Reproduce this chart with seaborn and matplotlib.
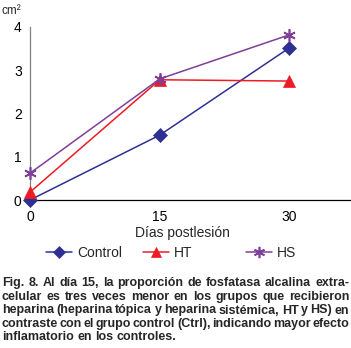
import matplotlib
matplotlib.use("Agg")
import matplotlib.pyplot as plt
from matplotlib import font_manager
import seaborn as sns
import pandas as pd

# datos
dias = [0, 15, 30]
control = [0.0, 1.5, 3.52]
ht = [0.18, 2.78, 2.75]
hs = [0.62, 2.8, 3.82]
grupos = ["Control", "HT", "HS"]
colores = {"Control": "#2e3192", "HT": "#ed1c24", "HS": "#7f3f98"}
marcas = {"Control": "D", "HT": "^", "HS": (6, 2, 0)}
tamanos = {"Control": 7, "HT": 8.5, "HS": 9}

leyenda_txt = "Días postlesión"
caption = [
    "Fig. 8. Al día 15, la proporción de fosfatasa alcalina extra-",
    "celular es tres veces menor en los grupos que recibieron",
    "heparina (heparina tópica y heparina sistémica, HT y HS) en",
    "contraste con el grupo control (Ctrl), indicando mayor efecto",
    "inflamatorio en los controles.",
]

sns.set_style("white")
nombres = {f.name for f in font_manager.fontManager.ttflist}
fuente = "Liberation Sans" if "Liberation Sans" in nombres else "DejaVu Sans"
fuente_n = "Liberation Sans Narrow" if "Liberation Sans Narrow" in nombres else fuente
plt.rcParams["font.family"] = [fuente, "DejaVu Sans"]

df = pd.DataFrame({
    "dia": dias * 3,
    "valor": control + ht + hs,
    "grupo": [g for g in grupos for _ in dias],
})

W, H = 351, 348
fig = plt.figure(figsize=(W / 100, H / 100), dpi=100)
ax = fig.add_axes([30 / W, 1 - 200 / H, 320 / W, 173 / H])

sns.lineplot(data=df, x="dia", y="valor", hue="grupo", palette=colores,
             ax=ax, legend=False, linewidth=1.1)
# marcadores por grupo
for g in grupos:
    sub = df[df.grupo == g]
    ax.plot(sub.dia, sub.valor, color=colores[g], marker=marcas[g],
            markersize=tamanos[g], linestyle="none", clip_on=False,
            markeredgewidth=1.2 if g == "HS" else 0.5, zorder=5)

ax.set_xlim(0, 37)
ax.set_ylim(0, 4)
ax.set_xticks(dias)
ax.set_yticks([0, 1, 2, 3, 4])
ax.tick_params(axis="both", labelsize=10, colors="#808080", labelcolor="black",
               length=4, width=0.8, direction="out", pad=2)
ax.tick_params(axis="x", pad=3)
for s in ["top", "right"]:
    ax.spines[s].set_visible(False)
ax.spines["left"].set_color("#808080")
ax.spines["bottom"].set_color("black")
ax.spines["left"].set_linewidth(0.9)
ax.spines["bottom"].set_linewidth(0.9)
ax.set_xlabel("")
ax.set_ylabel("")

fig.text(2 / W, 1 - 11 / H, "cm²", fontsize=8.5, va="center", ha="left")
fig.text(182 / W, 1 - 233 / H, leyenda_txt, fontsize=10, ha="center", va="center")

# leyenda: una entrada por columna, columnas de igual ancho
inicio = {"Control": 46, "HT": 143, "HS": 246}
for g in grupos:
    h = plt.Line2D([], [], color=colores[g], marker=marcas[g],
                   markersize=tamanos[g] * 0.9, linewidth=1.1,
                   markeredgewidth=1.2 if g == "HS" else 0.5)
    fig.legend([h], [g], loc="center left", bbox_to_anchor=(inicio[g] / W, 1 - 253 / H),
               frameon=False, fontsize=10, handlelength=1.9,
               handletextpad=0.35, borderaxespad=0, borderpad=0)

# pie de figura justificado
fig.canvas.draw()
r = fig.canvas.get_renderer()
x0, x1 = 2, 349
fs = 9
ys = [283, 297, 310.5, 324, 337.5]
for i, linea in enumerate(caption):
    palabras = linea.split(" ")
    textos = [fig.text(0, 0, p, fontsize=fs, fontweight="bold", family=fuente_n)
              for p in palabras]
    anchos = [t.get_window_extent(r).width for t in textos]
    if i < len(caption) - 1:
        hueco = (x1 - x0 - sum(anchos)) / (len(palabras) - 1)
    else:
        hueco = fig.text(0, 0, " ", fontsize=fs, fontweight="bold",
                         family=fuente_n).get_window_extent(r).width
    x = x0
    for t, a in zip(textos, anchos):
        t.set_position((x / W, 1 - ys[i] / H))
        t.set_va("center")
        x += a + hueco

fig.savefig("out.png", dpi=100)
